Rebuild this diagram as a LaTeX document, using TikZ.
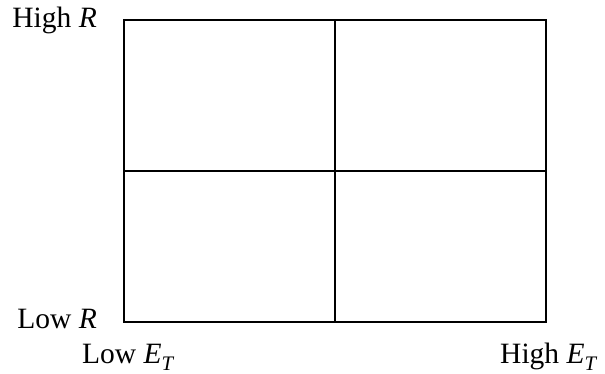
\documentclass[tikz,border=0pt]{standalone}
\usepackage{fontspec}
\setmainfont{Liberation Serif}
\usepackage{unicode-math}
\setmathfont{Latin Modern Math}
\usetikzlibrary{positioning}

\begin{document}
\begin{tikzpicture}[
x=1pt, y=-1pt,
every node/.style={font=\fontsize{29.5}{34}\selectfont, inner sep=0pt},
grid line/.style={line width=1.4pt}
]
\useasboundingbox (0,0) rectangle (605,374);

\coordinate (nw) at (124,20);
\coordinate (se) at (546,322);
\coordinate (mid) at (335,171);

\draw[grid line] (nw) rectangle (se);
\draw[grid line] (nw -| mid) -- (se -| mid);
\draw[grid line] (nw |- mid) -- (se |- mid);

\node (highR) [anchor=base east] at (97,28) {High \textit{R}};
\node (lowR) [anchor=base east] at (97,328) {Low \textit{R}};
\node (lowE) [anchor=base west] at (82,363) {Low \textit{E}\textsubscript{\textit{T}}};
\node (highE) [anchor=base east] at (598,363) {High \textit{E}\textsubscript{\textit{T}}};

\end{tikzpicture}
\end{document}
